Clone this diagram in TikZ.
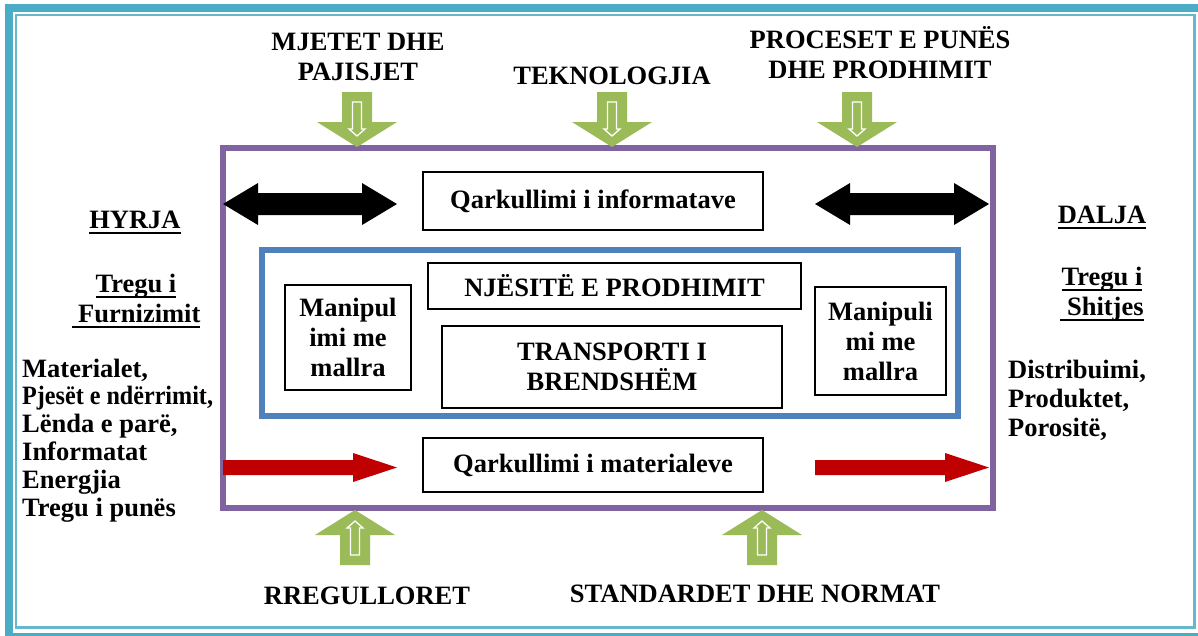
\documentclass[tikz,border=0pt]{standalone}
\usepackage{fontspec}
\usepackage{graphicx}
\setmainfont{Liberation Serif}
\usetikzlibrary{positioning}
\definecolor{FrameTeal}{HTML}{4BACC6}
\definecolor{SystemPurple}{HTML}{8064A2}
\definecolor{CoreBlue}{HTML}{4F81BD}
\definecolor{InputGreen}{HTML}{9BBB59}
\definecolor{FlowRed}{HTML}{C00000}
\newcommand{\ulbold}[1]{\setbox0\hbox{#1}\rlap{\rule[-6pt]{\wd0}{2.5pt}}\box0}

\tikzset{
  flowbox/.style={draw, line width=2.4pt, align=center, inner sep=0pt},
  heading/.style={align=center, inner sep=0pt, font=\bfseries\fontsize{26.5pt}{30pt}\selectfont},
  sidetext/.style={align=center, inner sep=0pt, font=\bfseries\fontsize{26.5pt}{30pt}\selectfont},
  listtext/.style={align=left, inner sep=0pt, font=\bfseries\fontsize{26.5pt}{27.8pt}\selectfont},
  greenarrow/.pic={
    \fill[InputGreen] (-15,-30) -- (15,-30) -- (15,0) -- (40,0) -- (0,25) -- (-40,0) -- (-15,0) -- cycle;
    \draw[white, line width=1.3pt] (-4.5,-20) -- (4.5,-20) -- (4.5,7) -- (8,7) -- (0,14) -- (-8,7) -- (-4.5,7) -- cycle;
  }
}

\begin{document}
\begin{tikzpicture}[x=1pt, y=-1pt, font=\bfseries\fontsize{26.5pt}{30pt}\selectfont]
  \useasboundingbox (0,0) rectangle (1198,635);
  % page frame
  \draw[FrameTeal, line width=8pt] (9,7.5) rectangle (1204,637);
  \draw[FrameTeal!85, line width=2.5pt] (16,15) rectangle (1194.5,627.5);

  % system and production frames
  \node[draw=SystemPurple, line width=6pt, minimum width=770pt, minimum height=360pt, inner sep=0pt] (system) at (608,328) {};
  \node[draw=CoreBlue, line width=6pt, minimum width=696pt, minimum height=166pt, inner sep=0pt] (core) at (610,333) {};

  % boxes
  \node[flowbox, minimum width=340pt, minimum height=58pt] (info) at (593,201) {Qarkullimi i informatave};
  \node[flowbox, minimum width=340pt, minimum height=54pt] (materials) at (593,465) {Qarkullimi i materialeve};
  \node[flowbox, minimum width=373pt, minimum height=46pt] (units) at (614.5,286) {NJËSITË E PRODHIMIT};
  \node[flowbox, minimum width=340pt, minimum height=82pt] (transport) at (612,367) {TRANSPORTI I\\BRENDSHËM};
  \node[flowbox, minimum width=126pt, minimum height=105pt] (handlingin) at (348,337.5) {Manipul\\imi me\\mallra};
  \node[flowbox, minimum width=131pt, minimum height=108pt] (handlingout) at (880.5,341) {Manipuli\\mi me\\mallra};

  % information and material flows
  \foreach \xa/\xb in {223/397, 815/989} {
    \fill (\xa,204) -- ({\xa+35},183) -- ({\xa+35},193) -- ({\xb-35},193) -- ({\xb-35},183) -- (\xb,204)
      -- ({\xb-35},225) -- ({\xb-35},215) -- ({\xa+35},215) -- ({\xa+35},225) -- cycle;
    \fill[FlowRed] (\xa,460) -- ({\xb-44},460) -- ({\xb-44},453) -- (\xb,467.5) -- ({\xb-44},482)
      -- ({\xb-44},475) -- (\xa,475) -- cycle;
  }

  % influences
  \foreach \x in {357, 612, 857}
    \pic at (\x,122) {greenarrow};
  \foreach \x in {355, 762}
    \pic[rotate=180] at (\x,535) {greenarrow};

  % labels
  \node[heading, anchor=base] (tools) at (358,80) {MJETET DHE\\PAJISJET};
  \node[heading, anchor=base] (technology) at (612,84) {TEKNOLOGJIA};
  \node[heading, anchor=base] (processes) at (880,78) {PROCESET E PUNËS\\DHE PRODHIMIT};
  \node[heading, anchor=base] (rules) at (367,604) {RREGULLORET};
  \node[heading, anchor=base] (standards) at (755,602) {STANDARDET DHE NORMAT};

  \node[sidetext, anchor=base] (input) at (135,228) {\ulbold{HYRJA}};
  \node[sidetext, anchor=base] (supply) at (136,322) {\ulbold{Tregu i}\\\ulbold{\ Furnizimit}};
  \node[listtext, anchor=base west] (inputs) at (22,516) {Materialet,\\\scalebox{0.91}[1]{Pjesët e ndërrimit,}\\Lënda e parë,\\Informatat\\Energjia\\Tregu i punës};

  \node[sidetext, anchor=base] (output) at (1102,223) {\ulbold{DALJA}};
  \node[sidetext, anchor=base] (sales) at (1102,315) {\ulbold{Tregu i}\\\ulbold{\ Shitjes}};
  \node[listtext, anchor=base west, font=\bfseries\fontsize{26.5pt}{29pt}\selectfont] (outputs) at (1008,436) {Distribuimi,\\Produktet,\\Porositë,};
\end{tikzpicture}
\end{document}
